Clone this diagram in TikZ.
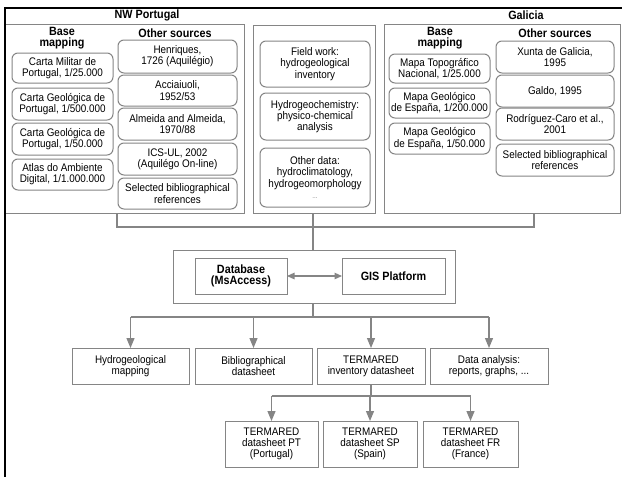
\documentclass[tikz,border=0pt]{standalone}
\usepackage{fontspec}
\setmainfont{Liberation Sans}[FakeStretch=0.9]
\usetikzlibrary{arrows.meta}
\definecolor{edge}{HTML}{858585}
\definecolor{conn}{HTML}{858585}
\tikzset{
  base/.style={draw=edge, line width=1pt, inner sep=0pt, outer sep=0pt, align=center,
    font=\fontsize{11}{11.2}\selectfont},
  rbox/.style={base, rounded corners=6pt},
  sbox/.style={base},
  region/.style={draw=edge, line width=1pt, inner sep=0pt, outer sep=0pt},
  ttl/.style={font=\bfseries\fontsize{12}{10.5}\selectfont, align=center, inner sep=0pt},
  bttl/.style={font=\bfseries\fontsize{12}{10.5}\selectfont, align=center, inner sep=0pt},
  cline/.style={draw=conn, line width=1.2pt},
  arr/.style={cline, -{Triangle[width=8pt,length=10pt,fill=conn]}},
  darr/.style={cline, {Triangle[width=6.5pt,length=7.5pt,fill=conn]}-{Triangle[width=6.5pt,length=7.5pt,fill=conn]}},
}
\begin{document}
\begin{tikzpicture}[x=1pt,y=-1pt]
\useasboundingbox (0,0) rectangle (622,477);
\fill[white] (0,0) rectangle (622,477);

% regions
\node[region, minimum width=239pt, minimum height=189pt] (nw) at (124.5,118.5) {};
\node[region, minimum width=122pt, minimum height=188pt] (mid) at (314,119) {};
\node[region, minimum width=236pt, minimum height=189pt] (gal) at (502,118.5) {};
\node[ttl] (nwt) at (147,15) {NW Portugal};
\node[ttl] (galt) at (526,15) {Galicia};

% outer black frame
\draw[line width=2pt, black] (5,477) -- (5,8) -- (622,8);

% NW Portugal
\node[bttl] (nwbm) at (62,38) {Base\\mapping};
\node[bttl] (nwos) at (175,33) {Other sources};
\node[rbox, minimum width=101pt, minimum height=30pt] (b1) at (62.5,68) {Carta Militar de\\Portugal, 1/25.000};
\node[rbox, minimum width=101pt, minimum height=32pt] (b2) at (62.5,104) {Carta Geológica de\\Portugal, 1/500.000};
\node[rbox, minimum width=101pt, minimum height=32pt] (b3) at (62.5,139) {Carta Geológica de\\Portugal, 1/50.000};
\node[rbox, minimum width=101pt, minimum height=31pt] (b4) at (62.5,174.5) {Atlas do Ambiente\\Digital, 1/1.000.000};
\node[rbox, minimum width=119pt, minimum height=33pt] (o1) at (177.5,56.5) {Henriques,\\1726 (Aquilégio)};
\node[rbox, minimum width=119pt, minimum height=31pt] (o2) at (177.5,90.5) {Acciaiuoli,\\1952/53};
\node[rbox, minimum width=119pt, minimum height=32pt] (o3) at (177.5,124) {Almeida and Almeida,\\1970/88};
\node[rbox, minimum width=119pt, minimum height=32pt] (o4) at (177.5,159) {ICS-UL, 2002\\(Aquilégo On-line)};
\node[rbox, minimum width=119pt, minimum height=31pt] (o5) at (177.5,193.5) {Selected bibliographical\\references};

% middle
\node[rbox, minimum width=110pt, minimum height=46pt] (m1) at (315,64) {Field work:\\hydrogeological\\inventory};
\node[rbox, minimum width=110pt, minimum height=47pt] (m2) at (315,116.5) {Hydrogeochemistry:\\physico-chemical\\analysis};
\node[rbox, minimum width=110pt, minimum height=59pt] (m3) at (315,177.5) {Other data:\\hydroclimatology,\\hydrogeomorphology\\{\color{gray}\fontsize{7}{9}\selectfont ...}};

% Galicia
\node[bttl] (gbm) at (440,38) {Base\\mapping};
\node[bttl] (gos) at (555,33) {Other sources};
\node[rbox, minimum width=101pt, minimum height=29pt] (g1) at (439.5,68.5) {Mapa Topográfico\\Nacional, 1/25.000};
\node[rbox, minimum width=101pt, minimum height=30pt] (g2) at (439.5,103) {Mapa Geológico\\de España, 1/200.000};
\node[rbox, minimum width=101pt, minimum height=31pt] (g3) at (439.5,138.5) {Mapa Geológico\\de España, 1/50.000};
\node[rbox, minimum width=118pt, minimum height=32pt] (h1) at (555,57) {Xunta de Galicia,\\1995};
\node[rbox, minimum width=118pt, minimum height=32pt] (h2) at (555,91) {Galdo, 1995};
\node[rbox, minimum width=118pt, minimum height=32pt] (h3) at (555,124) {Rodríguez-Caro et al.,\\2001};
\node[rbox, minimum width=118pt, minimum height=32pt] (h4) at (555,160) {Selected bibliographical\\references};

% database block
\node[sbox, minimum width=282pt, minimum height=53pt] (dbo) at (314,276.5) {};
\node[sbox, minimum width=92pt, minimum height=36pt, font=\bfseries\fontsize{12}{11.5}\selectfont] (db) at (241,276) {Database\\(MsAccess)};
\node[sbox, minimum width=103pt, minimum height=36pt, font=\bfseries\fontsize{12}{11.5}\selectfont] (gis) at (393.5,276) {GIS Platform};
\draw[darr] (db.east) -- (gis.west);

% bracket from regions
\coordinate (bl) at (117,227);
\coordinate (br) at (534,227);
\coordinate (bm) at (313,227);
\draw[cline] (nw.south -| bl) -- (bl) -- (br) -- (gal.south -| br);
\draw[cline] (mid.south -| bm) -- (dbo.north -| bm);

% outputs
\node[sbox, minimum width=117pt, minimum height=36pt] (r1) at (130.5,366) {Hydrogeological\\mapping};
\node[sbox, minimum width=117pt, minimum height=36pt] (r2) at (253.5,366) {Bibliographical\\datasheet};
\node[sbox, minimum width=108pt, minimum height=36pt] (r3) at (371,366) {TERMARED\\inventory datasheet};
\node[sbox, minimum width=118pt, minimum height=36pt] (r4) at (489,366) {Data analysis:\\reports, graphs, ...};

\coordinate (j1) at (313,317);
\draw[cline] (dbo.south -| j1) -- (j1);
\draw[cline] (r1.north |- j1) -- (r4.north |- j1);
\foreach \r in {r1,r2,r3,r4} \draw[arr] (\r.north |- j1) -- (\r.north);

% datasheets
\node[sbox, minimum width=93pt, minimum height=46pt] (s1) at (271.5,444) {TERMARED\\datasheet PT\\(Portugal)};
\node[sbox, minimum width=94pt, minimum height=46pt] (s2) at (370,444) {TERMARED\\datasheet SP\\(Spain)};
\node[sbox, minimum width=95pt, minimum height=46pt] (s3) at (470.5,444) {TERMARED\\datasheet FR\\(France)};

\coordinate (j2) at (371,396);
\draw[cline] (r3.south) -- (j2);
\draw[cline] (s1.north |- j2) -- (s3.north |- j2);
\foreach \s in {s1,s2,s3} \draw[arr] (\s.north |- j2) -- (\s.north);
\end{tikzpicture}
\end{document}
